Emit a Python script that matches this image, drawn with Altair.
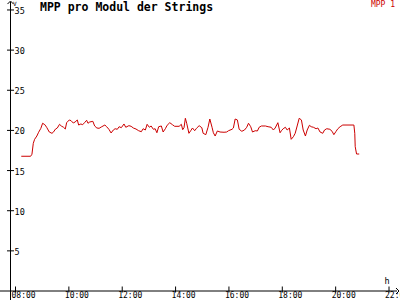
import altair as alt
import pandas as pd

# ---- data ----
times = ["08:13","08:34","08:37","08:40","08:43","08:48","08:52","08:57","09:01","09:06",
         "09:10","09:16","09:22","09:25","09:30","09:34","09:39","09:43","09:48","09:52",
         "09:55","10:01","10:05","10:10","10:14","10:19","10:22","10:27","10:31","10:36",
         "10:40","10:43","10:47","10:54","10:58","11:03","11:08","11:14","11:21","11:25",
         "11:30","11:35","11:40","11:44","11:49","11:53","11:58","12:04","12:08","12:15",
         "12:20","12:25","12:31","12:37","12:43","12:47","12:52","12:56","13:01","13:05",
         "13:10","13:14","13:18","13:22","13:28","13:32","13:37","13:41","13:47","13:53",
         "13:58","14:08","14:13","14:16","14:19","14:22","14:25","14:30","14:34","14:38",
         "14:43","14:47","14:53","14:59","15:02","15:08","15:13","15:17","15:22","15:25",
         "15:29","15:34","15:40","15:49","15:55","15:59","16:07","16:10","16:14","16:19",
         "16:23","16:29","16:35","16:40","16:44","16:49","16:53","16:59","17:04","17:08",
         "17:13","17:22","17:28","17:35","17:40","17:44","17:50","17:55","17:58","18:02",
         "18:07","18:11","18:16","18:20","18:25","18:29","18:34","18:38","18:43","18:47",
         "18:52","18:56","19:01","19:05","19:10","19:16","19:20","19:25","19:31","19:35",
         "19:40","19:47","19:52","19:56","20:01","20:05","20:10","20:16","20:41","20:43",
         "20:44","20:47","20:53"]
mpp1 = [16.78,16.78,17.03,18.39,18.89,19.30,19.77,20.26,20.89,20.71,
        20.39,19.80,19.64,19.77,20.17,20.30,20.76,20.55,20.39,20.17,
        20.96,21.30,21.21,20.92,21.05,21.30,20.67,20.80,20.71,21.01,
        21.26,20.89,21.05,21.13,20.55,20.30,20.26,20.46,20.67,20.46,
        20.14,19.68,20.05,20.21,20.14,20.46,20.34,20.80,20.39,20.59,
        20.51,20.30,20.17,19.96,19.84,20.21,20.05,20.76,20.39,20.55,
        20.14,20.21,19.71,20.46,20.55,19.80,20.21,20.64,20.96,20.71,
        20.51,20.51,20.76,20.09,20.34,21.51,20.89,19.64,19.96,20.30,
        19.96,20.26,20.59,20.34,19.64,19.47,20.39,21.42,20.39,19.71,
        19.30,19.93,19.80,19.77,19.80,19.96,20.14,20.30,21.42,21.30,
        20.14,19.89,20.05,20.39,20.89,20.46,19.80,19.96,19.93,20.39,
        20.55,20.55,20.46,20.39,20.05,20.30,20.96,19.71,19.96,20.21,
        20.39,20.05,20.30,18.89,19.22,19.64,20.67,21.51,21.30,20.05,
        19.30,20.05,20.64,20.46,20.39,20.21,20.30,19.80,19.64,20.05,
        20.21,20.14,19.89,19.47,19.89,20.21,20.46,20.67,20.67,19.64,
        17.97,17.06,17.06]

y_ticks = [5, 10, 15, 20, 25, 30, 35]
x_ticks = [8, 10, 12, 14, 16, 18, 20, 22]
x_tick_labels = ["08:00", "10:00", "12:00", "14:00", "16:00", "18:00", "20:00", "22:00"]

title_text = "MPP pro Modul der Strings"
series_name = "MPP 1"
y_unit = "V"
x_unit = "h"

# ---- layout constants ----
T_MIN, T_MAX = 7.419, 22.412      # visible time range (hours)
V_MIN, V_MAX = -1.12, 36.24       # visible value range
Y_AXIS_T = 7.813                  # where the y axis crosses
X_AXIS_END = 22.30
RED = "#cc0000"
FONT = "DejaVu Sans Mono"

def to_hours(s):
    h, m = s.split(":")
    return int(h) + int(m) / 60.0

xs = alt.Scale(domain=[T_MIN, T_MAX], nice=False, zero=False)
ys = alt.Scale(domain=[V_MIN, V_MAX], nice=False, zero=False)

line_df = pd.DataFrame({"t": [to_hours(s) for s in times], "v": mpp1})
yt_df = pd.DataFrame({"t": [Y_AXIS_T] * len(y_ticks), "v": y_ticks,
                      "lab": [str(v) for v in y_ticks]})
xt_df = pd.DataFrame({"t": x_ticks, "v": [0] * len(x_ticks), "lab": x_tick_labels})

line = alt.Chart(line_df).mark_line(color=RED, strokeWidth=1).encode(
    x=alt.X("t:Q", scale=xs, axis=None),
    y=alt.Y("v:Q", scale=ys, axis=None),
)

xaxis = alt.Chart(pd.DataFrame({"t": [T_MIN], "t2": [X_AXIS_END], "v": [0]})).mark_rule(
    color="black", strokeWidth=1).encode(
    x=alt.X("t:Q", scale=xs, axis=None), x2="t2:Q",
    y=alt.Y("v:Q", scale=ys, axis=None))

yaxis = alt.Chart(pd.DataFrame({"t": [Y_AXIS_T], "v": [V_MIN], "v2": [36.0]})).mark_rule(
    color="black", strokeWidth=1).encode(
    x=alt.X("t:Q", scale=xs, axis=None),
    y=alt.Y("v:Q", scale=ys, axis=None), y2="v2:Q")

up_arrow = alt.Chart(pd.DataFrame({"t": [Y_AXIS_T], "v": [36.11]})).mark_point(
    shape="M-1,1L0,0L1,1", size=36, filled=False, color="black", strokeWidth=1, opacity=1).encode(
    x=alt.X("t:Q", scale=xs, axis=None), y=alt.Y("v:Q", scale=ys, axis=None))

right_arrow = alt.Chart(pd.DataFrame({"t": [22.374], "v": [0]})).mark_point(
    shape="M-1,-1L0,0L-1,1", size=36, filled=False, color="black", strokeWidth=1, opacity=1).encode(
    x=alt.X("t:Q", scale=xs, axis=None), y=alt.Y("v:Q", scale=ys, axis=None))

yticks = alt.Chart(yt_df).mark_tick(orient="horizontal", size=7, thickness=1, color="black",
                                    opacity=1).encode(
    x=alt.X("t:Q", scale=xs, axis=None), y=alt.Y("v:Q", scale=ys, axis=None))

ylabels = alt.Chart(yt_df).mark_text(align="left", baseline="middle", dx=4, dy=1,
                                     font=FONT, fontSize=8.5, color="black").encode(
    x=alt.X("t:Q", scale=xs, axis=None), y=alt.Y("v:Q", scale=ys, axis=None), text="lab:N")

xticks = alt.Chart(xt_df).mark_tick(orient="vertical", size=6, thickness=1, color="black",
                                    opacity=1, yOffset=-1.5).encode(
    x=alt.X("t:Q", scale=xs, axis=None), y=alt.Y("v:Q", scale=ys, axis=None))

xlabels = alt.Chart(xt_df).mark_text(align="left", baseline="middle", dx=-4, dy=4.5,
                                     font=FONT, fontSize=8, color="black").encode(
    x=alt.X("t:Q", scale=xs, axis=None), y=alt.Y("v:Q", scale=ys, axis=None), text="lab:N")

title = alt.Chart(pd.DataFrame({"s": [title_text]})).mark_text(
    align="left", baseline="middle", font=FONT, fontSize=11.5, fontWeight="bold",
    color="black").encode(x=alt.value(40), y=alt.value(8), text="s:N")

legend = alt.Chart(pd.DataFrame({"s": [series_name]})).mark_text(
    align="right", baseline="middle", font=FONT, fontSize=8, color=RED).encode(
    x=alt.value(395), y=alt.value(4.5), text="s:N")

yunit = alt.Chart(pd.DataFrame({"s": [y_unit]})).mark_text(
    align="left", baseline="middle", font=FONT, fontSize=6, color="black").encode(
    x=alt.value(13), y=alt.value(3.5), text="s:N")

xunit = alt.Chart(pd.DataFrame({"s": [x_unit]})).mark_text(
    align="center", baseline="middle", font=FONT, fontSize=8.5, color="black").encode(
    x=alt.value(387), y=alt.value(281), text="s:N")

chart = alt.layer(
    xaxis, yaxis, up_arrow, right_arrow, yticks, ylabels, xticks, xlabels,
    line, title, legend, yunit, xunit
).properties(
    width=400, height=300, padding=0, autosize=alt.AutoSizeParams(type="none"),
    background="white"
).configure_view(stroke=None)

chart.save("out.html", embed_options={"renderer": "svg", "actions": False})
